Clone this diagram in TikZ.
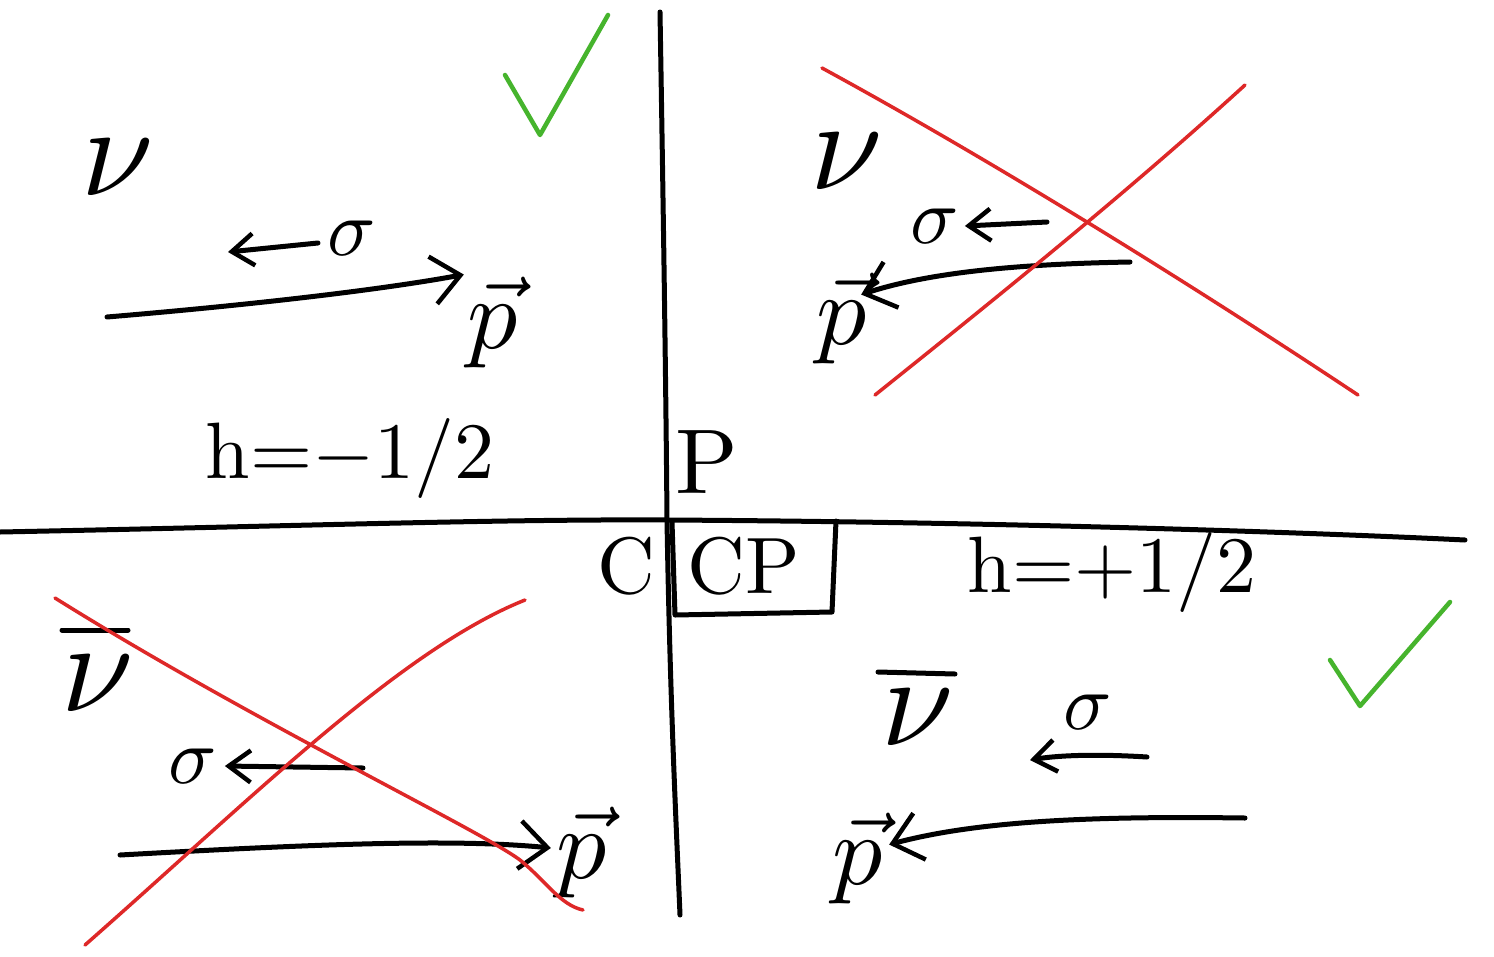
\documentclass[tikz,border=0pt]{standalone}
\usetikzlibrary{arrows.meta}
\definecolor{xred}{RGB}{222,40,40}
\definecolor{xgreen}{RGB}{70,180,45}
\begin{document}
\begin{tikzpicture}[x=1pt,y=-1pt,line cap=round,line join=round,
  ink/.style={line width=5pt,black},
  redx/.style={line width=3.5pt,xred},
  check/.style={line width=4.5pt,xgreen},
  arr/.style={ink,-{Straight Barb[length=28pt,width=48pt,line width=4.5pt]}},
  sarr/.style={ink,-{Straight Barb[length=22pt,width=32pt,line width=4.5pt]}},
  lbl/.style={inner sep=0pt,scale=#1/10},
  lbl/.default=9]
\useasboundingbox (0,0) rectangle (1494,956);
\fill[white] (0,0) rectangle (1494,956);
% axes
\draw[ink] (660,12) .. controls (664,250) and (666,400) .. (667,520) .. controls (670,700) and (676,820) .. (680,915);
\draw[ink] (0,532) .. controls (300,526) and (500,519) .. (667,520) .. controls (1000,522) and (1300,532) .. (1465,540);
% CP box
\draw[ink] (672,522) -- (675,615) -- (832,612) -- (836,521);
\node[lbl=92] (P) at (707,462) {P};
\node[lbl=80] (C) at (626,566) {C};
\node[lbl=80] (CP) at (744,566) {CP};
\node[lbl=80] (hm) at (350,458) {h=$-$1/2};
\node[lbl=80] (hp) at (1112,572) {h=+1/2};
% checks
\draw[check] (505,75) -- (540,135) -- (608,15);
\draw[check] (1330,660) -- (1360,706) -- (1450,602);
% top-left
\node[lbl=130] (nu1) at (118,168) {$\nu$};
\node[lbl=80] (s1) at (352,238) {$\sigma$};
\coordinate (s1a) at (318,243);
\coordinate (s1b) at (228,252);
\draw[sarr] (s1a) -- (s1b);
\node[lbl=100] (p1) at (493,322) {$\vec p$};
\coordinate (p1a) at (107,317);
\draw[arr] (p1a) .. controls (250,305) and (380,290) .. ([xshift=-2pt,yshift=0pt]p1.north west);
% top-right
\node[lbl=130] (nu2) at (847,162) {$\nu$};
\node[lbl=80] (s2) at (935,226) {$\sigma$};
\coordinate (s2a) at (1047,222);
\draw[sarr] (s2a) -- ([xshift=4pt]s2.east);
\node[lbl=100] (p2) at (842,318) {$\vec p$};
\coordinate (p2a) at (1130,262);
\draw[arr] (p2a) .. controls (1020,264) and (930,272) .. ([xshift=-8pt,yshift=-24pt]p2.north east);
\draw[redx] (822,68) .. controls (1000,165) and (1200,290) .. (1358,395);
\draw[redx] (875,395) .. controls (1000,295) and (1130,190) .. (1245,85);
% bottom-left
\node[lbl=130] (nb1) at (98,684) {$\nu$};
\coordinate (bar1a) at (62,630);
\coordinate (bar1b) at (128,630);
\draw[ink] (bar1a) -- (bar1b);
\node[lbl=80] (s3) at (193,766) {$\sigma$};
\coordinate (s3a) at (363,768);
\draw[sarr] (s3a) -- ([xshift=6pt]s3.east);
\node[lbl=100] (p3) at (582,852) {$\vec p$};
\coordinate (p3a) at (120,855);
\draw[arr] (p3a) .. controls (300,845) and (450,838) .. ([xshift=-4pt,yshift=4pt]p3.west);
\draw[redx] (55,598) .. controls (250,720) and (480,830) .. (520,860) .. controls (545,880) and (560,905) .. (583,910);
\draw[redx] (85,945) .. controls (250,800) and (400,650) .. (525,600);
% bottom-right
\node[lbl=130] (nb2) at (918,718) {$\nu$};
\coordinate (bar2a) at (878,672);
\coordinate (bar2b) at (955,674);
\draw[ink] (bar2a) -- (bar2b);
\node[lbl=80] (s4) at (1088,712) {$\sigma$};
\coordinate (s4a) at (1147,757);
\coordinate (s4b) at (1030,760);
\draw[sarr] (s4a) .. controls (1100,754) and (1060,755) .. (s4b);
\node[lbl=100] (p4) at (858,858) {$\vec p$};
\coordinate (p4a) at (1245,818);
\draw[arr] (p4a) .. controls (1100,816) and (980,820) .. ([xshift=4pt,yshift=-34pt]p4.north east);
\end{tikzpicture}
\end{document}
